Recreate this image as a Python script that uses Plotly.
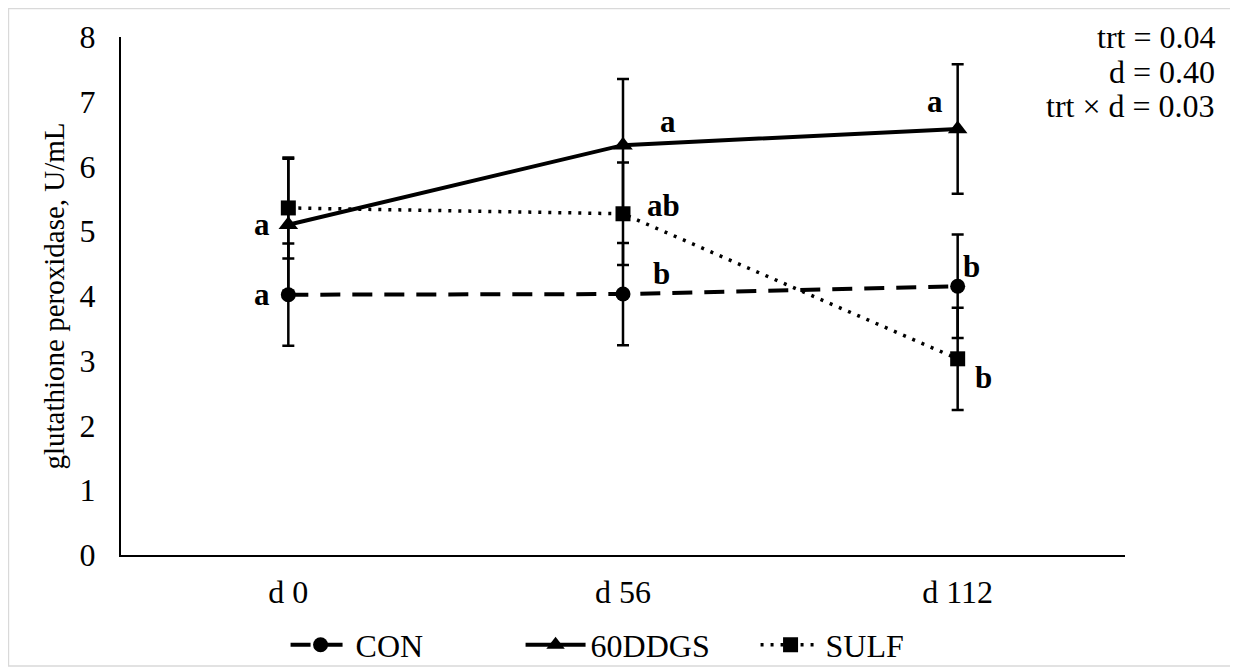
import plotly.graph_objects as go

days = ["d 0", "d 56", "d 112"]
con = [4.02, 4.03, 4.15]
con_se = [0.79, 0.79, 0.80]
ddgs = [5.10, 6.33, 6.58]
ddgs_se = [1.02, 1.02, 1.00]
sulf = [5.36, 5.27, 3.03]
sulf_se = [0.78, 0.79, 0.79]
con_letters = ["a", "b", "b"]
ddgs_letters = ["a", "a", "a"]
sulf_letters = ["", "ab", "b"]
stats = ["trt = 0.04", "d = 0.40", "trt × d = 0.03"]

FONT = "Liberation Serif"

fig = go.Figure()

def add(name, y, se, dash, symbol, width, msize):
    fig.add_trace(go.Scatter(
        x=days, y=y, name=name, mode="lines+markers",
        line=dict(color="black", width=width, dash=dash),
        marker=dict(symbol=symbol, size=msize, color="black"),
        error_y=dict(type="data", array=se, visible=True, color="black",
                     thickness=2.5, width=6),
    ))

add("CON", con, con_se, "20px,12px", "circle", 4, 15)
add("60DDGS", ddgs, ddgs_se, "solid", "triangle-up", 4, 17)
add("SULF", sulf, sulf_se, "3px,7px", "square", 3.5, 15)

# significance letters
offsets = {
    "con": [(-26, 0), (38, 21), (14, 20)],
    "ddgs": [(-26, 0), (45, 24), (-23, 27)],
    "sulf": [(0, 0), (40, 8), (26, -19)],
}
for key, vals, letters in [("con", con, con_letters), ("ddgs", ddgs, ddgs_letters), ("sulf", sulf, sulf_letters)]:
    for i, (d, v, l) in enumerate(zip(days, vals, letters)):
        if not l:
            continue
        dx, dy = offsets[key][i]
        fig.add_annotation(x=d, y=v, text=f"<b>{l}</b>", showarrow=False,
                           xshift=dx, yshift=dy,
                           font=dict(family=FONT, size=31, color="black"))

# stats text
for i, s in enumerate(stats):
    fig.add_annotation(xref="paper", yref="paper", x=1.0916,
                       y=(555 - (37 + 34.5 * i)) / 518,
                       xanchor="right", yanchor="middle", text=s, showarrow=False,
                       font=dict(family=FONT, size=32, color="black"))

# outer border
fig.add_shape(type="rect", xref="paper", yref="paper",
              x0=-0.1121, x1=1.1106, y0=-0.2143, y1=1.0550,
              line=dict(color="#d9d9d9", width=1.5))

fig.update_layout(
    width=1230, height=664,
    margin=dict(l=113, r=113, t=29, b=117, autoexpand=False),
    paper_bgcolor="white", plot_bgcolor="white",
    font=dict(family=FONT, size=32, color="black"),
    showlegend=True,
    legend=dict(orientation="h", x=0.515, xanchor="center",
                yref="container", y=(664 - 637) / 664, yanchor="middle",
                bgcolor="rgba(0,0,0,0)",
                font=dict(family=FONT, size=32), itemwidth=60, entrywidth=160),
)
fig.update_xaxes(range=[-0.5, 2.5], showline=True, linecolor="black", linewidth=2,
                 showgrid=False, zeroline=False, ticks="", ticklabelstandoff=8,
                 automargin=False, tickfont=dict(family=FONT, size=32))
fig.update_yaxes(range=[0, 8], dtick=1, showline=True, linecolor="black", linewidth=2,
                 showgrid=False, zeroline=False, ticks="", ticklabelstandoff=17,
                 automargin=False,
                 title=dict(text="glutathione peroxidase, U/mL", standoff=6,
                            font=dict(family=FONT, size=29)),
                 tickfont=dict(family=FONT, size=32))

fig.write_html("out.html")
